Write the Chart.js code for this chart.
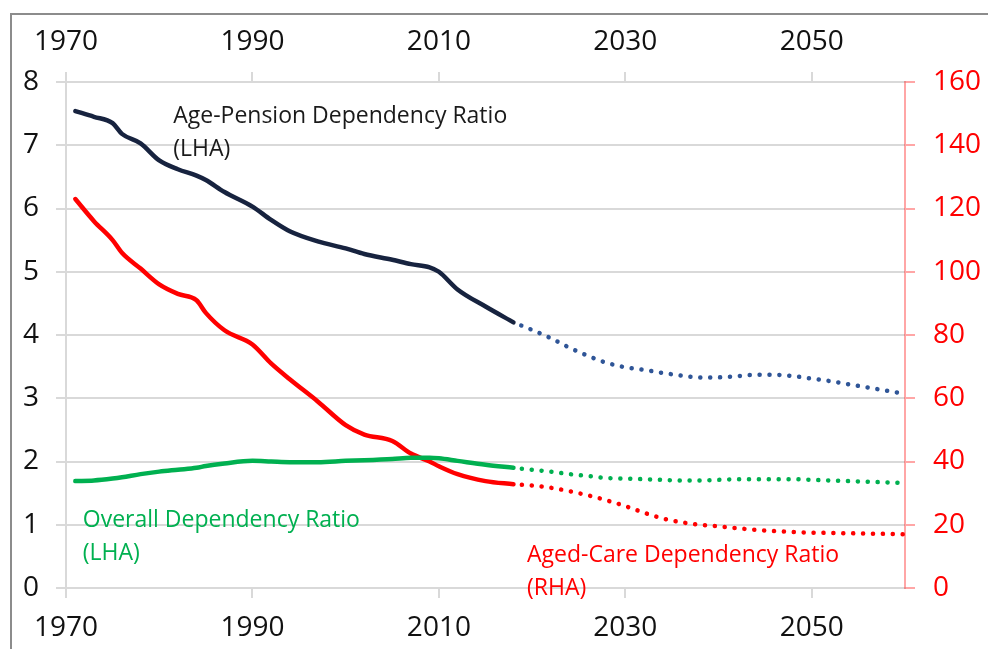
<!DOCTYPE html>
<html>
<head>
<meta charset="utf-8">
<script src="https://cdn.jsdelivr.net/npm/chart.js@4.4.1/dist/chart.umd.min.js"></script>
<style>
  html, body { margin: 0; padding: 0; background: #fff; overflow: hidden; }
  #wrap { position: relative; width: 988px; height: 649px; }
  #frame { position: absolute; left: 10px; top: 13px; width: 1000px; height: 700px;
           border-top: 2px solid #8c8c8c; border-left: 2px solid #8c8c8c; }
  canvas { position: absolute; left: 0; top: 0; }
</style>
</head>
<body>
<div id="wrap">
  <div id="frame"></div>
  <canvas id="myChart" width="988" height="649"></canvas>
</div>
<script>
// historical (solid) and projected (dotted) series
const histYears = [1971, 1973, 1975, 1976, 1978, 1980, 1982, 1984, 1985, 1987, 1990, 1992, 1994, 1997, 2000, 2002, 2005, 2007, 2009, 2010, 2012, 2015, 2018];
const pensionHist = [7.54, 7.45, 7.35, 7.18, 7.03, 6.76, 6.62, 6.52, 6.45, 6.26, 6.03, 5.82, 5.64, 5.48, 5.37, 5.28, 5.19, 5.12, 5.07, 5.00, 4.72, 4.45, 4.20];
const overallHist = [1.69, 1.70, 1.73, 1.75, 1.80, 1.84, 1.87, 1.90, 1.93, 1.97, 2.01, 2.00, 1.99, 1.99, 2.01, 2.02, 2.04, 2.06, 2.06, 2.05, 2.01, 1.95, 1.90];
const agedHist = [123, 116, 110, 106, 101, 96, 93, 91, 87, 81.5, 77, 71, 66, 59, 51.5, 48.5, 46.5, 42.5, 40, 38.5, 36, 33.8, 32.8];

const projYears = [2018, 2020, 2022, 2024, 2026, 2028, 2030, 2032, 2034, 2036, 2038, 2040, 2042, 2044, 2046, 2048, 2050, 2052, 2054, 2056, 2058, 2060];
const pensionProj = [4.20, 4.08, 3.95, 3.80, 3.67, 3.56, 3.49, 3.45, 3.40, 3.36, 3.33, 3.33, 3.35, 3.37, 3.37, 3.35, 3.31, 3.27, 3.22, 3.17, 3.12, 3.07];
const overallProj = [1.90, 1.87, 1.84, 1.80, 1.77, 1.74, 1.73, 1.72, 1.71, 1.70, 1.70, 1.71, 1.72, 1.72, 1.72, 1.72, 1.71, 1.70, 1.69, 1.68, 1.67, 1.66];
const agedProj = [32.8, 32.4, 31.7, 30.6, 29.3, 27.7, 25.9, 23.8, 22.0, 20.8, 20.0, 19.5, 18.9, 18.4, 18.0, 17.7, 17.5, 17.4, 17.3, 17.2, 17.1, 17.0];

const yearTicks = [1970, 1990, 2010, 2030, 2050];

const FONT = '"Open Sans", sans-serif';

function pts(xs, ys) {
    return xs.map((x, i) => ({x: x, y: ys[i]}));
}

function solid(label, xs, ys, color, axis) {
    return {
        label: label, data: pts(xs, ys), yAxisID: axis,
        borderColor: color, borderWidth: 4.5, pointRadius: 0,
        cubicInterpolationMode: 'monotone', borderCapStyle: 'round', fill: false
    };
}

function dotted(label, xs, ys, color, axis) {
    return {
        label: label, data: pts(xs, ys), yAxisID: axis,
        borderColor: color, borderWidth: 4.5, pointRadius: 0,
        cubicInterpolationMode: 'monotone', fill: false,
        borderCapStyle: 'round', borderDash: [0.1, 9.8], borderDashOffset: 1.5
    };
}

// text labels next to the lines
const notes = [
    {lines: ['Age-Pension Dependency Ratio', '(LHA)'], x: 1981.5, y: 7.35, color: '#1a1a1a'},
    {lines: ['Overall Dependency Ratio', '(LHA)'], x: 1971.8, y: 0.96, color: '#00b050'},
    {lines: ['Aged-Care Dependency Ratio', '(RHA)'], x: 2019.45, y: 0.41, color: '#ff0000'}
];

const notePlugin = {
    id: 'notes',
    afterDatasetsDraw(chart) {
        const ctx = chart.ctx;
        const xs = chart.scales.x, ys = chart.scales.y;
        ctx.save();
        ctx.font = '23px ' + FONT;
        ctx.textBaseline = 'alphabetic';
        ctx.textAlign = 'left';
        notes.forEach(n => {
            ctx.fillStyle = n.color;
            const px = xs.getPixelForValue(n.x);
            const py = ys.getPixelForValue(n.y);
            n.lines.forEach((t, i) => ctx.fillText(t, px, py + i * 33));
        });
        ctx.restore();
    }
};

const yearAxis = (pos, h) => ({
    type: 'linear', position: pos, min: 1970, max: 2060,
    afterBuildTicks: s => { s.ticks = yearTicks.map(v => ({value: v})); },
    afterFit: s => { s.height = h; },
    grid: {drawOnChartArea: false, tickLength: 10, color: '#d9d9d9', lineWidth: 2},
    border: {color: '#d9d9d9', width: 2},
    ticks: {font: {family: FONT, size: 28}, color: '#111', padding: 13, maxRotation: 0,
            callback: v => String(v)}
});

new Chart(document.getElementById('myChart'), {
    type: 'line',
    data: {
        datasets: [
            solid('Age-Pension', histYears, pensionHist, '#17233f', 'y'),
            dotted('Age-Pension proj', projYears, pensionProj, '#2f5597', 'y'),
            solid('Overall', histYears, overallHist, '#00b050', 'y'),
            dotted('Overall proj', projYears, overallProj, '#00b050', 'y'),
            solid('Aged-Care', histYears, agedHist, '#ff0000', 'y2'),
            dotted('Aged-Care proj', projYears, agedProj, '#ff0000', 'y2')
        ]
    },
    options: {
        responsive: false,
        animation: false,
        devicePixelRatio: 1,
        layout: {padding: 0},
        plugins: {legend: {display: false}, tooltip: {enabled: false}},
        scales: {
            x: yearAxis('bottom', 61),
            xTop: yearAxis('top', 82),
            y: {
                position: 'left', min: 0, max: 8,
                afterFit: s => { s.width = 66; },
                grid: {color: '#d9d9d9', lineWidth: 2, tickLength: 10},
                border: {color: '#d9d9d9', width: 2},
                ticks: {stepSize: 1, font: {family: FONT, size: 28}, color: '#111', padding: 17}
            },
            y2: {
                position: 'right', min: 0, max: 160,
                afterFit: s => { s.width = 83; },
                grid: {drawOnChartArea: false, color: 'rgba(255,0,0,0.35)', lineWidth: 2, tickLength: 10},
                border: {color: 'rgba(255,0,0,0.35)', width: 2},
                ticks: {stepSize: 20, font: {family: FONT, size: 28}, color: '#ff0000', padding: 18}
            }
        }
    },
    plugins: [notePlugin]
});
</script>
</body>
</html>
